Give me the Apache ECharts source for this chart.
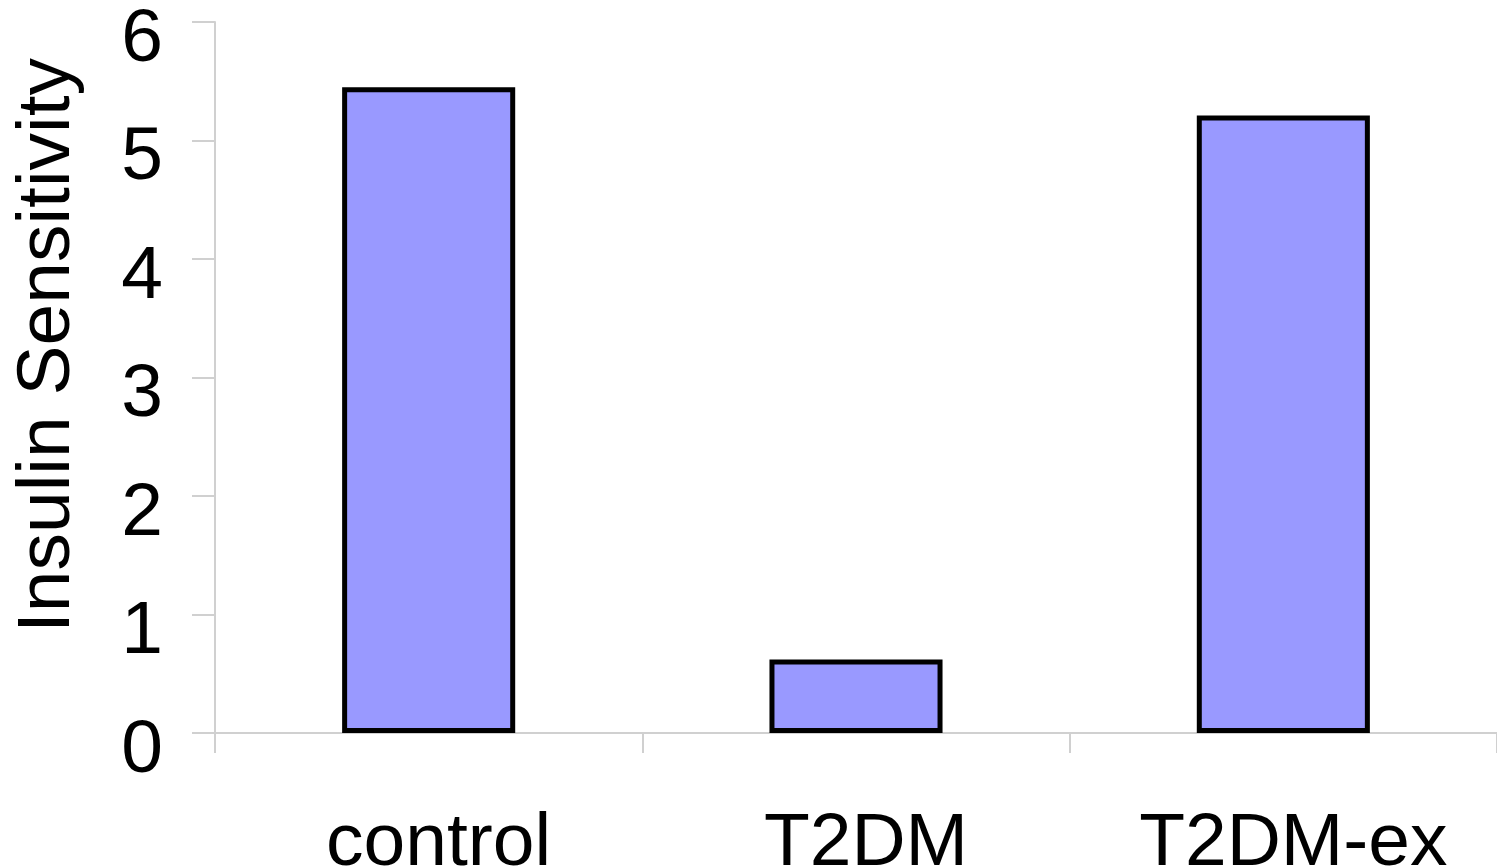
<!DOCTYPE html>
<html>
<head>
<meta charset="utf-8">
<script src="https://cdn.jsdelivr.net/npm/echarts@6/dist/echarts.min.js"></script>
<style>
  html, body { margin: 0; padding: 0; background: #fff; }
  #chart { width: 1497px; height: 867px; }
</style>
</head>
<body>
<div id="chart"></div>
<script>
// 数据
const categories = ['control', 'T2DM', 'T2DM-ex'];
const sensitivity = [5.45, 0.62, 5.21];
const yTicks = [0, 1, 2, 3, 4, 5, 6];

const myChart = echarts.init(document.getElementById('chart'));
const axisGray = '#d0d0d0';
const font = 'Liberation Sans, Arial, sans-serif';

const option = {
  animation: false,
  grid: { left: 215, right: 0, top: 22, bottom: 134, containLabel: false, outerBoundsMode: 'none' },
  xAxis: {
    type: 'category',
    data: categories,
    axisLine: { lineStyle: { color: axisGray, width: 2 } },
    axisTick: { show: true, length: 20, lineStyle: { color: axisGray, width: 2 } },
    axisLabel: { color: '#000', fontSize: 75, fontFamily: font, margin: 74, padding: [0, 0, 0, 20] },
    splitLine: { show: false }
  },
  yAxis: {
    type: 'value',
    min: yTicks[0],
    max: yTicks[yTicks.length - 1],
    interval: 1,
    name: 'Insulin Sensitivity',
    nameLocation: 'middle',
    nameGap: 129,
    nameTextStyle: { color: '#000', fontSize: 75, fontFamily: font, padding: [0, 0, 0, 64] },
    axisLine: { show: true, lineStyle: { color: axisGray, width: 2 } },
    axisTick: { show: true, length: 23, lineStyle: { color: axisGray, width: 2 } },
    // 标签略低于刻度线
    axisLabel: { color: '#000', fontSize: 75, fontFamily: font, margin: 52, verticalAlign: 'top', lineHeight: 36 },
    splitLine: { show: false }
  },
  series: [{
    type: 'bar',
    data: sensitivity,
    barWidth: '40.5%',
    itemStyle: { color: '#9999FF', borderColor: '#000', borderWidth: 5 }
  }]
};

myChart.setOption(option);
</script>
</body>
</html>
